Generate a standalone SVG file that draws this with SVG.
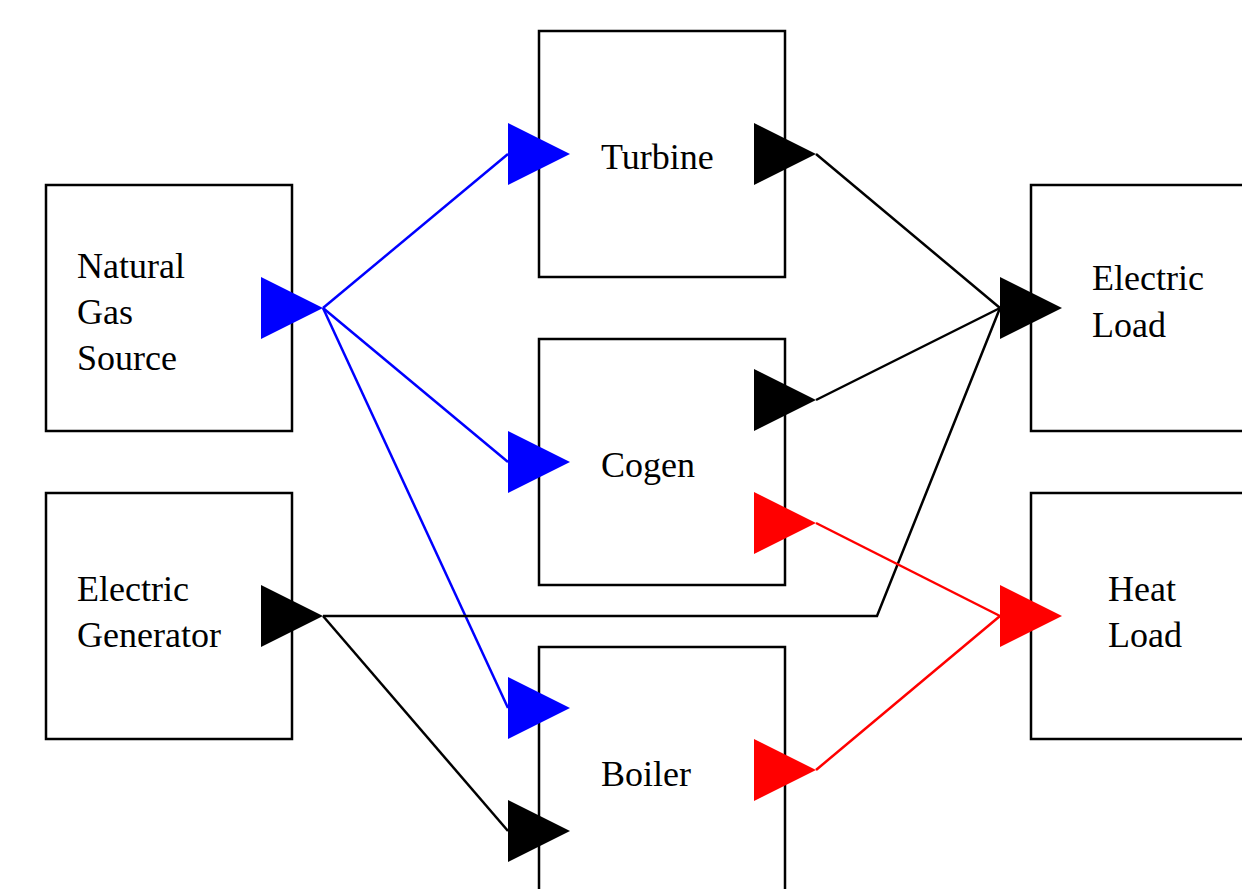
<svg xmlns="http://www.w3.org/2000/svg" width="1242" height="889" viewBox="0 0 1242 889">
<style>
.box{fill:#fff;stroke:#000;stroke-width:2.5}
.lbl{font-family:"Liberation Serif","Times New Roman",serif;font-size:36px;fill:#000}
.c{fill:none;stroke-width:2.5}
.blue{stroke:#0000ff}.black{stroke:#000}.red{stroke:#ff0000}
.tb{fill:#0000ff}.tk{fill:#000}.tr{fill:#ff0000}
</style>
<defs>
<path id="tri" d="M-31,-31 L31,0 L-31,31 Z"/>
</defs>
<rect width="1242" height="889" fill="#fff"/>
<g id="natural-gas">
<rect class="box" x="46" y="185" width="246" height="246"/>
<text class="lbl" x="77" y="278">Natural</text>
<text class="lbl" x="77" y="324">Gas</text>
<text class="lbl" x="77" y="370">Source</text>
</g>
<g id="electric-generator">
<rect class="box" x="46" y="493" width="246" height="246"/>
<text class="lbl" x="77" y="601">Electric</text>
<text class="lbl" x="77" y="647">Generator</text>
</g>
<g id="turbine">
<rect class="box" x="539" y="31" width="246" height="246"/>
<text class="lbl" x="601" y="169">Turbine</text>
</g>
<g id="cogen">
<rect class="box" x="539" y="339" width="246" height="246"/>
<text class="lbl" x="601" y="477">Cogen</text>
</g>
<g id="boiler">
<rect class="box" x="539" y="647" width="246" height="246"/>
<text class="lbl" x="601" y="786">Boiler</text>
</g>
<g id="electric-load">
<rect class="box" x="1031" y="185" width="246" height="246"/>
<text class="lbl" x="1092" y="290">Electric</text>
<text class="lbl" x="1092" y="337">Load</text>
</g>
<g id="heat-load">
<rect class="box" x="1031" y="493" width="246" height="246"/>
<text class="lbl" x="1108" y="601">Heat</text>
<text class="lbl" x="1108" y="647">Load</text>
</g>
<g id="connectors">
<path class="c blue" d="M323,308 L508,154"/>
<path class="c blue" d="M323,308 L508,462"/>
<path class="c blue" d="M323,308 L508,708"/>
<path class="c black" d="M816,154 L1000,308"/>
<path class="c black" d="M816,400 L1000,308"/>
<path class="c black" d="M323,616 L877,616 L1000,308"/>
<path class="c black" d="M323,616 L508,831"/>
<path class="c red" d="M816,523 L1000,616"/>
<path class="c red" d="M816,770 L1000,616"/>
</g>
<g id="ports">
<use href="#tri" class="tb" x="292" y="308"/>
<use href="#tri" class="tk" x="292" y="616"/>
<use href="#tri" class="tb" x="539" y="154"/>
<use href="#tri" class="tk" x="785" y="154"/>
<use href="#tri" class="tb" x="539" y="462"/>
<use href="#tri" class="tk" x="785" y="400"/>
<use href="#tri" class="tr" x="785" y="523"/>
<use href="#tri" class="tb" x="539" y="708"/>
<use href="#tri" class="tk" x="539" y="831"/>
<use href="#tri" class="tr" x="785" y="770"/>
<use href="#tri" class="tk" x="1031" y="308"/>
<use href="#tri" class="tr" x="1031" y="616"/>
</g>
</svg>
